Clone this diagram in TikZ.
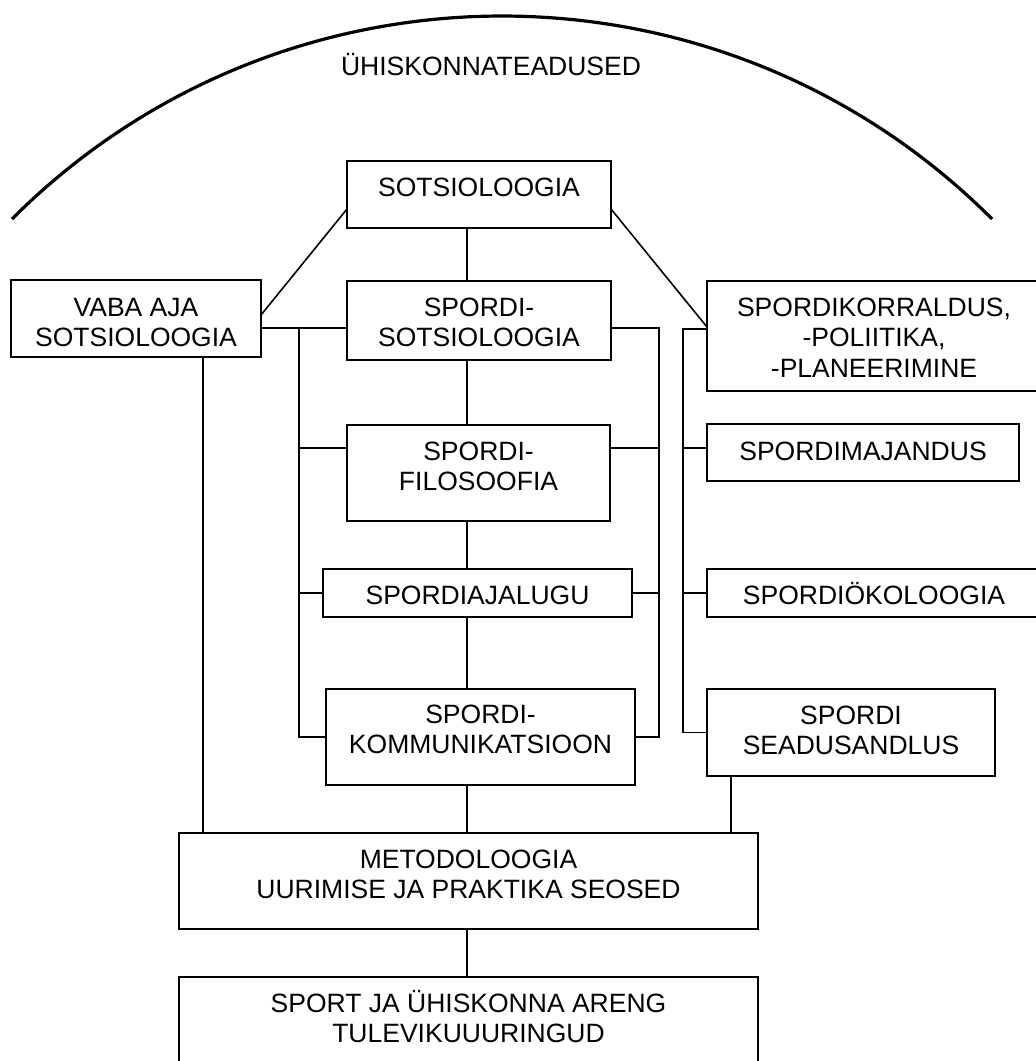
\documentclass[tikz,border=0pt]{standalone}
\usepackage{fontspec}
\setmainfont{Liberation Sans}
\usetikzlibrary{calc}

\begin{document}
\begin{tikzpicture}[x=0.5pt,y=-0.5pt,
  every node/.style={font=\fontsize{13.25}{15.25}\selectfont},
  box/.style={draw,line width=0.9pt,inner sep=0pt,outer sep=0pt,align=center,anchor=north west},
  line/.style={line width=0.8pt}]
  \useasboundingbox (0,0) rectangle (1036,1061);
  \clip (0,0) rectangle (1036,1061);
  % arc and title
  \draw[line width=1.6pt] (12,219) arc[start angle=135,end angle=45,radius=346.5pt];
  \node[anchor=base] (title) at (491,75) {ÜHISKONNATEADUSED};
  % boxes
  \node[box,minimum width=132pt,text height=17.5pt,text depth=16pt] (sots) at (347,161) {SOTSIOLOOGIA};
  \node[box,minimum width=125pt,text height=33.25pt,text depth=5.25pt] (vaba) at (11,280) {VABA AJA\\SOTSIOLOOGIA};
  \node[box,minimum width=132pt,text height=32.75pt,text depth=6.75pt] (ssots) at (347,281) {SPORDI-\\SOTSIOLOOGIA};
  \node[box,minimum width=167pt,text height=48pt,text depth=7pt] (korr) at (707,281) {SPORDIKORRALDUS,\\-POLIITIKA,\\-PLANEERIMINE};
  \node[box,minimum width=131.5pt,text height=32.75pt,text depth=15.25pt] (filo) at (347,425) {SPORDI-\\FILOSOOFIA};
  \node[box,minimum width=156pt,text height=18pt,text depth=10.5pt] (maj) at (707,424) {SPORDIMAJANDUS};
  \node[box,minimum width=154.5pt,text height=17.5pt,text depth=6.5pt] (ajal) at (323,569) {SPORDIAJALUGU};
  \node[box,minimum width=167pt,text height=17.5pt,text depth=6.5pt] (oko) at (707,569) {SPORDIÖKOLOOGIA};
  \node[box,minimum width=154.5pt,text height=32.25pt,text depth=15.75pt] (komm) at (326,689) {SPORDI-\\KOMMUNIKATSIOON};
  \node[box,minimum width=144pt,text height=32.75pt,text depth=10.75pt] (sead) at (707,689) {SPORDI\\SEADUSANDLUS};
  \node[box,minimum width=289.5pt,text height=32.75pt,text depth=15.25pt] (meto) at (179,833) {METODOLOOGIA\\UURIMISE JA PRAKTIKA SEOSED};
  \node[box,minimum width=289.5pt,text height=32.75pt,text depth=15.25pt] (areng) at (179,977) {SPORT JA ÜHISKONNA ARENG\\TULEVIKUUURINGUD};
  % helper points
  \coordinate (axis) at (467,0);
  \coordinate (ltrunk) at (299,328);
  \coordinate (rtrunk) at (659,328);
  \coordinate (ktrunk) at (683,329);
  \coordinate (fl) at ($(filo.north west)+(0,23)$);
  \coordinate (ml) at ($(maj.north west)+(0,24)$);
  \coordinate (vdrop) at ($(vaba.south west)+(192,0)$);
  \coordinate (sdrop) at ($(sead.south west)+(24,0)$);
  % middle column
  \draw[line] (sots.south -| axis) -- (ssots.north -| axis);
  \draw[line] (ssots.south -| axis) -- (filo.north -| axis);
  \draw[line] (filo.south -| axis) -- (ajal.north -| axis);
  \draw[line] (ajal.south -| axis) -- (komm.north -| axis);
  \draw[line] (komm.south -| axis) -- (meto.north -| axis);
  \draw[line] (meto.south -| axis) -- (areng.north -| axis);
  % diagonals
  \draw[line] ($(sots.south west)+(0,-19)$) -- ($(vaba.north east)+(0,35)$);
  \draw[line] ($(sots.south east)+(0,-19)$) -- ($(korr.north west)+(0,46)$);
  % left trunk
  \draw[line] (vaba.east |- ltrunk) -- (ssots.west |- ltrunk);
  \draw[line] (ltrunk) |- (komm.west);
  \draw[line] (fl) -- (fl -| ltrunk);
  \draw[line] (ajal.west) -- (ajal.west -| ltrunk);
  % right trunk
  \draw[line] (ssots.east |- rtrunk) -- (rtrunk) |- (komm.east);
  \draw[line] (fl -| filo.east) -- (fl -| rtrunk);
  \draw[line] (ajal.east) -- (ajal.east -| rtrunk);
  % right column
  \draw[line] (korr.west |- ktrunk) -- (ktrunk) |- (sead.west);
  \draw[line] (ml) -- (ml -| ktrunk);
  \draw[line] (oko.west) -- (oko.west -| ktrunk);
  % drops to methodology
  \draw[line] (vdrop) -- (vdrop |- meto.north);
  \draw[line] (sdrop) -- (sdrop |- meto.north);
\end{tikzpicture}
\end{document}
